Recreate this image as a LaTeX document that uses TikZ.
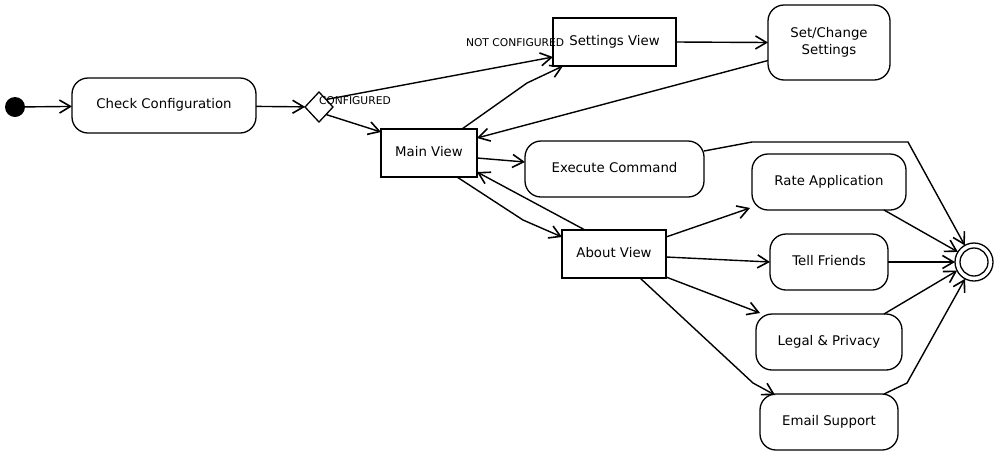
\documentclass[tikz,border=0pt]{standalone}
\usepackage{fontspec}
\setmainfont{DejaVu Sans}
\usetikzlibrary{arrows.meta,shapes.geometric}
\begin{document}
\begin{tikzpicture}[x=1pt,y=-1pt,
  every node/.style={inner sep=0pt, outer sep=0pt},
  statebox/.style={draw, line width=1.3pt, rounded corners=16pt, align=center, text depth=4pt, font=\fontsize{13.3}{17}\selectfont},
  viewbox/.style={draw, line width=1.3pt, align=center, text depth=4pt, font=\fontsize{13.3}{17}\selectfont},
  lbl/.style={font=\fontsize{10.7}{12}\selectfont},
  conn/.style={line width=1.4pt, -{Straight Barb[length=11pt,width=13pt,line width=1.6pt]}},
  plain/.style={line width=1.4pt}]
\useasboundingbox (0,0) rectangle (1000,456);
\node[circle, fill=black, minimum size=20pt] (init) at (15,107) {};
\node[statebox, minimum width=184pt, minimum height=55pt] (check) at (164,105.5) {Check Configuration};
\node[diamond, draw, line width=1.3pt, minimum width=28pt, minimum height=30pt] (dia) at (319,107) {};
\node[viewbox, minimum width=123pt, minimum height=48pt] (setv) at (614.5,42) {Settings View};
\node[statebox, minimum width=122pt, minimum height=75pt] (chg) at (829,42.5) {Set/Change\\Settings};
\node[viewbox, minimum width=96pt, minimum height=48pt] (main) at (429,153) {Main View};
\node[statebox, minimum width=179pt, minimum height=56pt] (exec) at (614.5,169) {Execute Command};
\node[statebox, minimum width=154pt, minimum height=56pt] (rate) at (829,182) {Rate Application};
\node[viewbox, minimum width=104pt, minimum height=48pt] (about) at (614,254) {About View};
\node[statebox, minimum width=118pt, minimum height=56pt] (tell) at (829,262) {Tell Friends};
\node[statebox, minimum width=146pt, minimum height=56pt] (legal) at (829,342) {Legal \& Privacy};
\node[statebox, minimum width=138pt, minimum height=56pt] (email) at (829,422) {Email Support};
\node[circle, draw, line width=1.3pt, minimum size=38pt] (fin) at (974,262) {};
\node[circle, draw, line width=1.3pt, minimum size=28pt] (fininner) at (974,262) {};
\node[lbl, anchor=west] (lconf) at (319,101) {CONFIGURED};
\node[lbl, anchor=west] (lnot) at (466,43) {NOT CONFIGURED};

\draw[conn] (init) -- (check);
\draw[conn] (check) -- (dia);
\draw[conn] (dia.north east) -- ([yshift=-15pt]setv.west);
\draw[conn] (dia.south east) -- ([yshift=-3pt]main.north west);
\draw[conn] ([xshift=33pt]main.north) -- (527,83) -- ([xshift=10pt]setv.south west);
\draw[conn] (setv.east) -- (chg.west);
\draw[conn] ([yshift=-18pt]chg.west) -- ([yshift=15pt]main.east);
\draw[conn] ([yshift=-5pt]main.east) -- ([yshift=7pt]exec.west);
\draw[conn] ([yshift=18pt]exec.east) -- (752,142) -- (908,142) -- (fin.119);
\draw[conn] ([xshift=28pt]main.south) -- (523,220) -- ([yshift=-7pt]about.north west);
\draw[conn] ([xshift=-29pt]about.north) -- ([yshift=5pt]main.south east);
\draw[conn] ([yshift=-7pt]about.north east) -- ([shift={(-2pt,2pt)}]rate.south west);
\draw[conn] ([yshift=-3pt]about.east) -- (tell.west);
\draw[conn] ([yshift=1pt]about.south east) -- ([shift={(4pt,1pt)}]legal.north west);
\draw[conn] ([xshift=26pt]about.south) -- (753,383) -- ([shift={(15pt,-1pt)}]email.north west);
\draw[conn] ([xshift=55pt]rate.south) -- (fin.148);
\draw[conn] (tell.east) -- (fin.west);
\draw[conn] ([xshift=55pt]legal.north) -- (fin.207);
\draw[conn] ([xshift=55pt]email.north) -- (907,383) -- (fin.242);
\end{tikzpicture}
\end{document}
